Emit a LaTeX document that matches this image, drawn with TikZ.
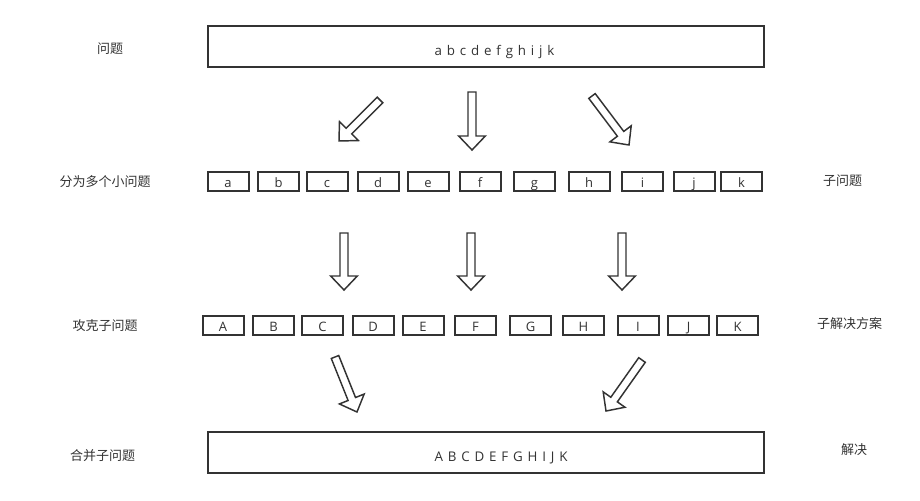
\documentclass[tikz,border=0pt]{standalone}
\usepackage{fontspec}
\setmainfont{Open Sans}
\newfontfamily\cjk{Noto Sans CJK SC}
\newfontfamily\latina[WordSpace=1.4]{Open Sans}
\usetikzlibrary{calc}
\definecolor{gris}{HTML}{333333}

\tikzset{
  caja/.style={draw=gris, line width=1.5pt, minimum width=30.75pt, minimum height=14.25pt,
    inner sep=0pt, text height=9pt, text depth=0pt, text=gris, font=\fontsize{9.75}{12}\selectfont},
  grande/.style={draw=gris, line width=1.5pt, minimum width=417pt, minimum height=30.75pt, inner sep=0pt},
  texto/.style={text=gris, inner sep=0pt, font=\latina\fontsize{10}{12}\selectfont},
  etiqueta/.style={text=gris, inner sep=0pt, font=\cjk\fontsize{9.75}{12}\selectfont},
  bloque/.style={draw=gris, line width=1.1pt, line join=miter, fill=white},
}

\begin{document}
\begin{tikzpicture}[x=0.75pt, y=-0.75pt] % coordenadas en pixeles
\newcommand{\flecha}[2]{% flecha hueca de #1 a #2
  \coordinate (#1base) at ($(#2)!10.5pt!(#1)$);
  \draw[bloque] ($(#1)!3pt!90:(#2)$) -- ($(#1base)!3pt!90:(#2)$) -- ($(#1base)!10pt!90:(#2)$)
    -- (#2) -- ($(#1base)!10pt!-90:(#2)$) -- ($(#1base)!3pt!-90:(#2)$) -- ($(#1)!3pt!-90:(#2)$) -- cycle;
}
\fill[white] (0,0) rectangle (920,500);
\useasboundingbox (0,0) rectangle (920,500);

% problema
\node[grande] (problema) at (486,46.5) {};
\node[texto] (problemaTxt) at (494.5,51.5) {a b c d e f g h i j k};

% subproblemas
\node[caja] (a) at (228,181) {a};
\node[caja] (b) at (278.5,181) {b};
\node[caja] (c) at (327,181) {c};
\node[caja] (d) at (378,181) {d};
\node[caja] (e) at (428,181) {e};
\node[caja] (f) at (480,181) {f};
\node[caja] (g) at (534.5,181) {g};
\node[caja] (h) at (589,181) {h};
\node[caja] (i) at (642.5,181) {i};
\node[caja] (j) at (694,181) {j};
\node[caja] (k) at (741.5,181) {k};

% subsoluciones
\node[caja] (A) at (223,325) {A};
\node[caja] (B) at (273.5,325) {B};
\node[caja] (C) at (322.5,325) {C};
\node[caja] (D) at (373,325) {D};
\node[caja] (E) at (423,325) {E};
\node[caja] (F) at (475.5,325) {F};
\node[caja] (G) at (530.5,325) {G};
\node[caja] (H) at (583.5,325) {H};
\node[caja] (I) at (638,325) {I};
\node[caja] (J) at (688.5,325) {J};
\node[caja] (K) at (737.5,325) {K};

% solucion
\node[grande] (solucion) at (486,452.5) {};
\node[texto] (solucionTxt) at (501,457.5) {A B C D E F G H I J K};

% etiquetas
\node[etiqueta] (izq1) at (110,49) {问题};
\node[etiqueta] (izq2) at (105,182) {分为多个小问题};
\node[etiqueta] (izq3) at (105,326) {攻克子问题};
\node[etiqueta] (izq4) at (102.5,456) {合并子问题};
\node[etiqueta] (der2) at (842.5,181) {子问题};
\node[etiqueta] (der3) at (849.5,324) {子解决方案};
\node[etiqueta] (der4) at (854,450) {解决};

% flechas
\coordinate (t1) at (380,100); \coordinate (p1) at (339,141);
\coordinate (t2) at (472,92);  \coordinate (p2) at (472,150);
\coordinate (t3) at (592,96);  \coordinate (p3) at (629,145);
\coordinate (t4) at (344,233); \coordinate (p4) at (344,290);
\coordinate (t5) at (471,233); \coordinate (p5) at (471,290);
\coordinate (t6) at (622,233); \coordinate (p6) at (622,290);
\coordinate (t7) at (335,357); \coordinate (p7) at (357,412);
\coordinate (t8) at (642,360); \coordinate (p8) at (606,411);
\flecha{t1}{p1} \flecha{t2}{p2} \flecha{t3}{p3}
\flecha{t4}{p4} \flecha{t5}{p5} \flecha{t6}{p6}
\flecha{t7}{p7} \flecha{t8}{p8}
\end{tikzpicture}
\end{document}
